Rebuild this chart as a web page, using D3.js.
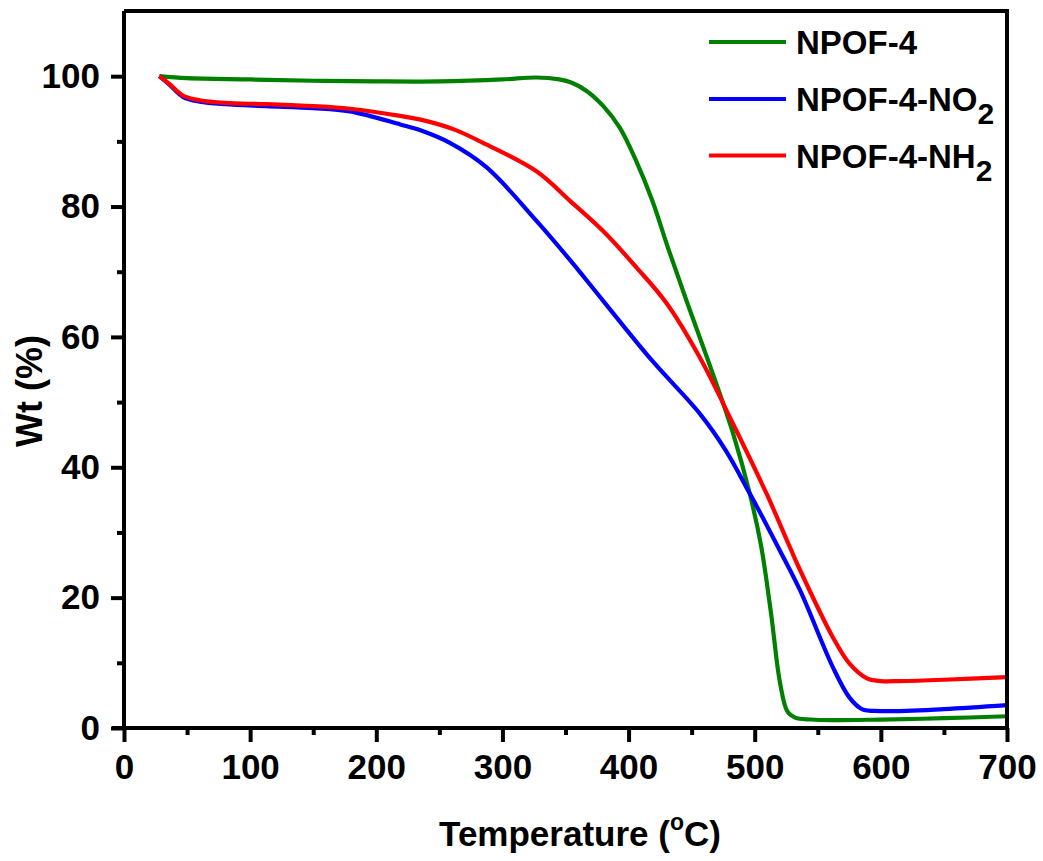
<!DOCTYPE html>
<html>
<head>
<meta charset="utf-8">
<script src="https://cdn.jsdelivr.net/npm/d3@7"></script>
<style>
  html, body { margin: 0; padding: 0; background: #fff; }
  svg { display: block; font-family: "Liberation Sans", Arial, sans-serif; font-weight: bold; }
</style>
</head>
<body>
<svg id="chart" width="1043" height="861"></svg>
<script>
// ---- data (temperature °C, weight %) ----
const seriesNames = ["NPOF-4", "NPOF-4-NO2", "NPOF-4-NH2"];
const seriesColors = ["#008000", "#0000FF", "#FF0000"];

const npof4 = [
  [28,100],[50,99.7],[100,99.5],[150,99.3],[200,99.2],[250,99.2],[300,99.5],[327,99.8],
  [345,99.5],[355,99.0],[367,97.7],[380,95.4],[393,92.1],[406,87.0],[419,80.8],[431,73.8],
  [446,65.5],[465,55.3],[483,45.1],[496,36.0],[505,28.0],[513,17.5],[520,7.0],[526,2.5],
  [532,1.6],[545,1.3],[560,1.2],[600,1.3],[650,1.5],[700,1.8]
];
const npof4NO2 = [
  [28,100],[36,98.7],[47,96.8],[60,96.1],[80,95.7],[113,95.4],[150,95.1],[179,94.6],
  [219,92.6],[235,91.7],[258,89.8],[287.5,86.0],[327,77.8],[354,71.7],[380,65.5],[418,56.5],
  [456.6,48.2],[477,42.6],[496,36.0],[506,32.4],[520,27.2],[536,21.1],[562,9.3],[575,4.7],
  [585,2.9],[600,2.6],[650,2.9],[700,3.5]
];
const npof4NH2 = [
  [28,100],[36,98.8],[47,97.0],[60,96.3],[80,95.9],[113,95.7],[150,95.4],[179,95.0],
  [219,93.9],[240,93.1],[262,91.8],[287.5,89.5],[327,85.4],[354,80.8],[380,76.2],[406.5,70.6],
  [430,65.2],[456.6,56.8],[483,46.6],[509.5,35.9],[528,27.7],[536,24.2],[562,13.9],[575,9.9],
  [589,7.6],[600,7.2],[615,7.2],[650,7.4],[700,7.8]
];
const seriesData = [npof4, npof4NO2, npof4NH2];

const xMajorTicks = [0,100,200,300,400,500,600,700];
const xMinorTicks = [50,150,250,350,450,550,650];
const yMajorTicks = [0,20,40,60,80,100];
const yMinorTicks = [10,30,50,70,90];

// ---- layout ----
const L = 124, R = 1007, T = 11, B = 728;
const svg = d3.select("#chart");
const x = d3.scaleLinear().domain([0,700]).range([L,R]);
const y = d3.scaleLinear().domain([0,110]).range([B,T]);

// curves
const line = d3.line().x(d => x(d[0])).y(d => y(d[1])).curve(d3.curveCatmullRom.alpha(0.5));
const plot = svg.append("g");
seriesData.forEach((s,i) => {
  plot.append("path").datum(s).attr("d", line)
    .attr("fill","none").attr("stroke",seriesColors[i]).attr("stroke-width",4.2)
    .attr("stroke-linejoin","round");
});

// frame
svg.append("path")
  .attr("d", `M${L},${T}H${R}V${B}`)
  .attr("fill","none").attr("stroke","#000").attr("stroke-width",4);

// axes
const xAxis = svg.append("g").attr("transform",`translate(0,${B})`)
  .call(d3.axisBottom(x).tickValues(xMajorTicks).tickSize(14).tickPadding(12).tickFormat(d3.format("d")));
svg.append("g").attr("transform",`translate(0,${B})`)
  .call(d3.axisBottom(x).tickValues(xMinorTicks).tickSize(7).tickFormat(""))
  .call(g => g.select(".domain").remove());
const yAxis = svg.append("g").attr("transform",`translate(${L},0)`)
  .call(d3.axisLeft(y).tickValues(yMajorTicks).tickSize(13).tickPadding(11).tickFormat(d3.format("d")));
svg.append("g").attr("transform",`translate(${L},0)`)
  .call(d3.axisLeft(y).tickValues(yMinorTicks).tickSize(7).tickFormat(""))
  .call(g => g.select(".domain").remove());

svg.selectAll(".domain").attr("stroke","#000").attr("stroke-width",4);
svg.selectAll(".tick line").attr("stroke","#000").attr("stroke-width",4);
svg.selectAll(".tick text").attr("fill","#000").style("font-size","35px")
  .style("font-family","'Liberation Sans', Arial, sans-serif").style("font-weight","bold");
xAxis.selectAll(".domain").attr("d", `M${L-12},0H${R}`);
yAxis.selectAll(".domain").attr("d", `M0,${B+2}V${T}`);

// axis titles
const xt = svg.append("text").attr("x",580).attr("y",846).attr("text-anchor","middle")
  .style("font-size","35px");
xt.append("tspan").text("Temperature (");
xt.append("tspan").attr("dy",-16).style("font-size","23px").text("o");
xt.append("tspan").attr("dy",16).text("C)");

svg.append("text").attr("transform","translate(42,391) rotate(-90)")
  .attr("text-anchor","middle").style("font-size","36px").text("Wt (%)");

// legend
const legY = [42, 99, 155.5];
const leg = svg.append("g");
seriesNames.forEach((n,i) => {
  leg.append("line").attr("x1",709).attr("x2",786).attr("y1",legY[i]).attr("y2",legY[i])
    .attr("stroke",seriesColors[i]).attr("stroke-width",4.2);
  const t = leg.append("text").attr("x",796).attr("y",legY[i]+12).style("font-size","33px");
  if (n.endsWith("2")) {
    t.append("tspan").text(n.slice(0,-1));
    t.append("tspan").attr("dy",13).style("font-size","30px").text("2");
  } else {
    t.text(n);
  }
});
</script>
</body>
</html>
